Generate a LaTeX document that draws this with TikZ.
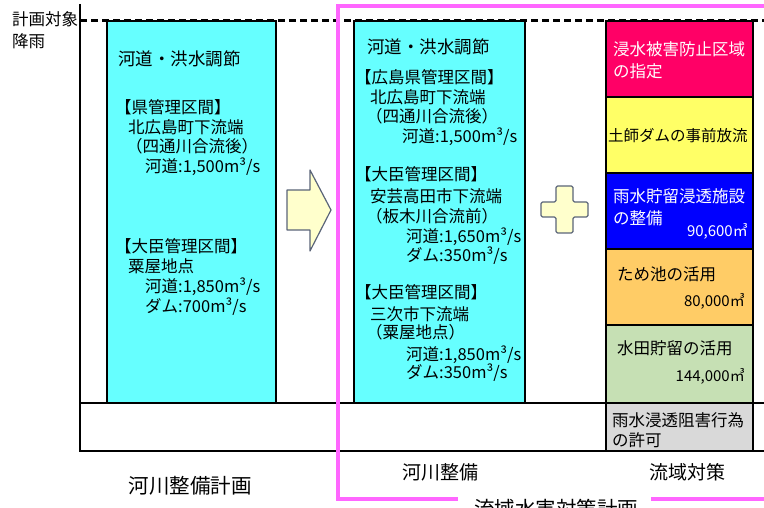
\documentclass[tikz,border=0pt]{standalone}
\usepackage{fontspec}
\newfontfamily\jp{Noto Sans CJK JP}
\definecolor{cyanbox}{HTML}{66FFFF}
\definecolor{redbox}{HTML}{FF0066}
\definecolor{yelbox}{HTML}{FFFF66}
\definecolor{bluebox}{HTML}{0000FF}
\definecolor{orabox}{HTML}{FFCC66}
\definecolor{grnbox}{HTML}{C6E0B4}
\definecolor{graybox}{HTML}{D9D9D9}
\definecolor{pinkc}{HTML}{FF66FF}
\definecolor{lightyel}{HTML}{FFFFCC}
\definecolor{slate}{HTML}{5A6478}
\tikzset{
  box/.style={draw=black, line width=1.8pt},
  tx/.style={anchor=west, inner sep=0pt, font=\jp\fontsize{16.5}{18}\selectfont, text height=14pt, text depth=3.5pt},
  txr/.style={tx, anchor=east},
  lbl/.style={anchor=center, inner sep=0pt, font=\jp\fontsize{19}{21}\selectfont},
  pinkline/.style={draw=pinkc, line width=3.5pt},
  shapebox/.style={fill=lightyel, draw=slate, line width=1.2pt, line join=round},
  axis/.style={draw=black, line width=1.8pt},
}
\begin{document}
\begin{tikzpicture}[x=1pt,y=-1pt]
\useasboundingbox (0,0) rectangle (764,508);
% dashed planning line
\draw[line width=3pt, dash pattern=on 7pt off 4pt] (80,21) -- (764,21);
% left cyan box
\draw[box, fill=cyanbox] (107,21) rectangle (276,403);
% middle cyan box
\draw[box, fill=cyanbox] (354,21) rectangle (525,403);
% right column
\draw[box, fill=redbox]  (606,21)  rectangle (753,97);
\draw[box, fill=yelbox]  (606,97)  rectangle (753,173);
\draw[box, fill=bluebox] (606,173) rectangle (753,249);
\draw[box, fill=orabox]  (606,249) rectangle (753,325);
\draw[box, fill=grnbox]  (606,325) rectangle (753,403);
\draw[box, fill=graybox] (606,403) rectangle (753,451);
% axes and horizontal lines
\draw[axis] (80,4) -- (80,451) -- (764,451);
\draw[axis] (80,403) -- (764,403);
% arrow
\draw[shapebox] (287,190) -- (310,190) -- (310,170) -- (331,210) -- (310,251) -- (310,230) -- (287,230) -- cycle;
% plus
\draw[shapebox, rounded corners=1.5pt] (556,186) -- (573,186) -- (573,202) -- (588,202) -- (588,217) -- (573,217) -- (573,233) -- (556,233) -- (556,217) -- (541,217) -- (541,202) -- (556,202) -- cycle;
% pink frame
\draw[pinkline] (764,6) -- (338,6) -- (338,499) -- (458,499);
\draw[pinkline] (651,499) -- (764,499);
\node[lbl, font=\jp\fontsize{20.5}{22}\selectfont] (plan2) at (556,509) {流域水害対策計画};
% top-left label
\node[tx] (ax1) at (12,20) {計画対象};
\node[tx] (ax2) at (12,42) {降雨};
% left box text
\node[tx, font=\jp\fontsize{17.5}{19}\selectfont] (l1) at (118,60) {河道・洪水調節};
\node[tx] (l2) at (115,108) {【県管理区間】};
\node[tx] (l3) at (128,128) {北広島町下流端};
\node[tx] (l4) at (126,147) {（四通川合流後）};
\node[tx] (l5) at (145,167) {河道:1,500m³/s};
\node[tx] (l6) at (115,247) {【大臣管理区間】};
\node[tx] (l7) at (128,267) {粟屋地点};
\node[tx] (l8) at (145,287) {河道:1,850m³/s};
\node[tx] (l9) at (145,307) {ダム:700m³/s};
% middle box text
\node[tx, font=\jp\fontsize{17.5}{19}\selectfont] (m1) at (367,48) {河道・洪水調節};
\node[tx] (m2) at (355,78) {【広島県管理区間】};
\node[tx] (m3) at (370,98) {北広島町下流端};
\node[tx] (m4) at (366,117) {（四通川合流後）};
\node[tx] (m5) at (402,137) {河道:1,500m³/s};
\node[tx] (m6) at (355,175) {【大臣管理区間】};
\node[tx] (m7) at (370,197) {安芸高田市下流端};
\node[tx] (m8) at (366,217) {（板木川合流前）};
\node[tx] (m9) at (406,237) {河道:1,650m³/s};
\node[tx] (m10) at (406,256) {ダム:350m³/s};
\node[tx] (m11) at (355,293) {【大臣管理区間】};
\node[tx] (m12) at (370,315) {三次市下流端};
\node[tx] (m13) at (366,333) {（粟屋地点）};
\node[tx] (m14) at (406,355) {河道:1,850m³/s};
\node[tx] (m15) at (406,373) {ダム:350m³/s};
% right column text
\node[tx, text=white] (r1) at (613,50) {浸水被害防止区域};
\node[tx, text=white] (r2) at (613,72) {の指定};
\node[tx, font=\jp\fontsize{15.5}{17}\selectfont] (r3) at (608,136) {土師ダムの事前放流};
\node[tx, text=white] (r4) at (613,197) {雨水貯留浸透施設};
\node[tx, text=white] (r5) at (613,219) {の整備};
\node[txr, text=white, font=\jp\fontsize{15}{17}\selectfont] (r6) at (748,231) {90,600㎥};
\node[tx] (r7) at (617,275) {ため池の活用};
\node[txr, font=\jp\fontsize{15}{17}\selectfont] (r8) at (745,301) {80,000㎥};
\node[tx] (r9) at (617,349) {水田貯留の活用};
\node[txr, font=\jp\fontsize{15}{17}\selectfont] (r10) at (745,376) {144,000㎥};
\node[tx] (r11) at (612,421) {雨水浸透阻害行為};
\node[tx] (r12) at (612,441) {の許可};
% bottom labels
\node[lbl, font=\jp\fontsize{20.5}{22}\selectfont] (b1) at (190,486) {河川整備計画};
\node[lbl] (b2) at (440,472) {河川整備};
\node[lbl] (b3) at (687,472) {流域対策};
\end{tikzpicture}
\end{document}
